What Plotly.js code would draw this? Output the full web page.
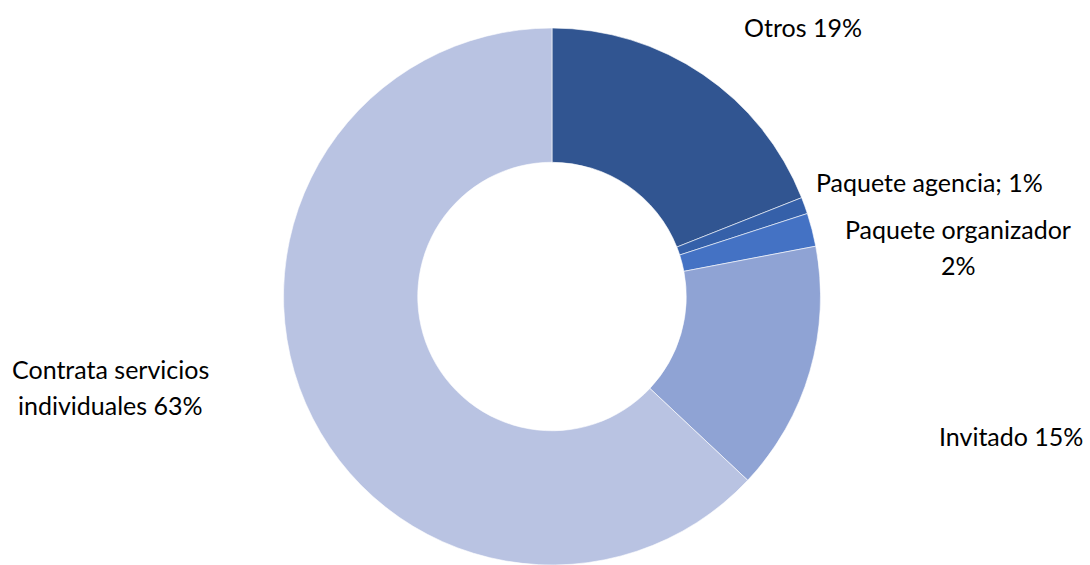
<!DOCTYPE html>
<html>
<head>
<meta charset="utf-8">
<script src="https://cdn.plot.ly/plotly-3.0.1.min.js"></script>
<style>html,body{margin:0;padding:0;background:#fff;}#chart{width:1090px;height:565px;}</style>
</head>
<body>
<div id="chart"></div>
<script>
const categories = ["Otros", "Paquete agencia", "Paquete organizador", "Invitado", "Contrata servicios individuales"];
const values = [19, 1, 2, 15, 63];
const labelLines = [["Otros 19%"], ["Paquete agencia; 1%"], ["Paquete organizador", "2%"], ["Invitado 15%"], ["Contrata servicios", "individuales 63%"]];
const colors = ["#315591", "#3560A9", "#4472C4", "#8FA3D4", "#B9C3E2"];

const W = 1090, H = 565, T = 28;
// label anchor centers in pixels (first line)
const labelPos = [[803, 27], [929, 182], [958, 229], [1011, 436], [110, 369]];
const lineGap = 36;
const fontFam = "Lato, 'Open Sans', sans-serif";

const annotations = [];
labelLines.forEach((lines, i) => {
  lines.forEach((t, j) => {
    const px = labelPos[i][0], py = labelPos[i][1] + j * lineGap;
    annotations.push({
      text: t, x: px / W, y: (H - py) / (H - T), xref: 'paper', yref: 'paper',
      xanchor: 'center', yanchor: 'middle', showarrow: false,
      font: {family: fontFam, size: 25, color: '#000'}
    });
  });
});

const trace = {
  type: 'pie', labels: categories, values: values, hole: 0.5,
  sort: false, direction: 'clockwise', rotation: 0,
  marker: {colors: colors, line: {color: '#ffffff', width: 0.6}},
  textinfo: 'none', hoverinfo: 'label+percent',
  domain: {x: [(552 - 300) / W, (552 + 300) / W], y: [0, 1]}
};

Plotly.newPlot('chart', [trace], {
  width: W, height: H, margin: {l: 0, r: 0, t: T, b: 0},
  showlegend: false, paper_bgcolor: '#fff', annotations: annotations
}, {displayModeBar: false, staticPlot: true});
</script>
</body>
</html>
